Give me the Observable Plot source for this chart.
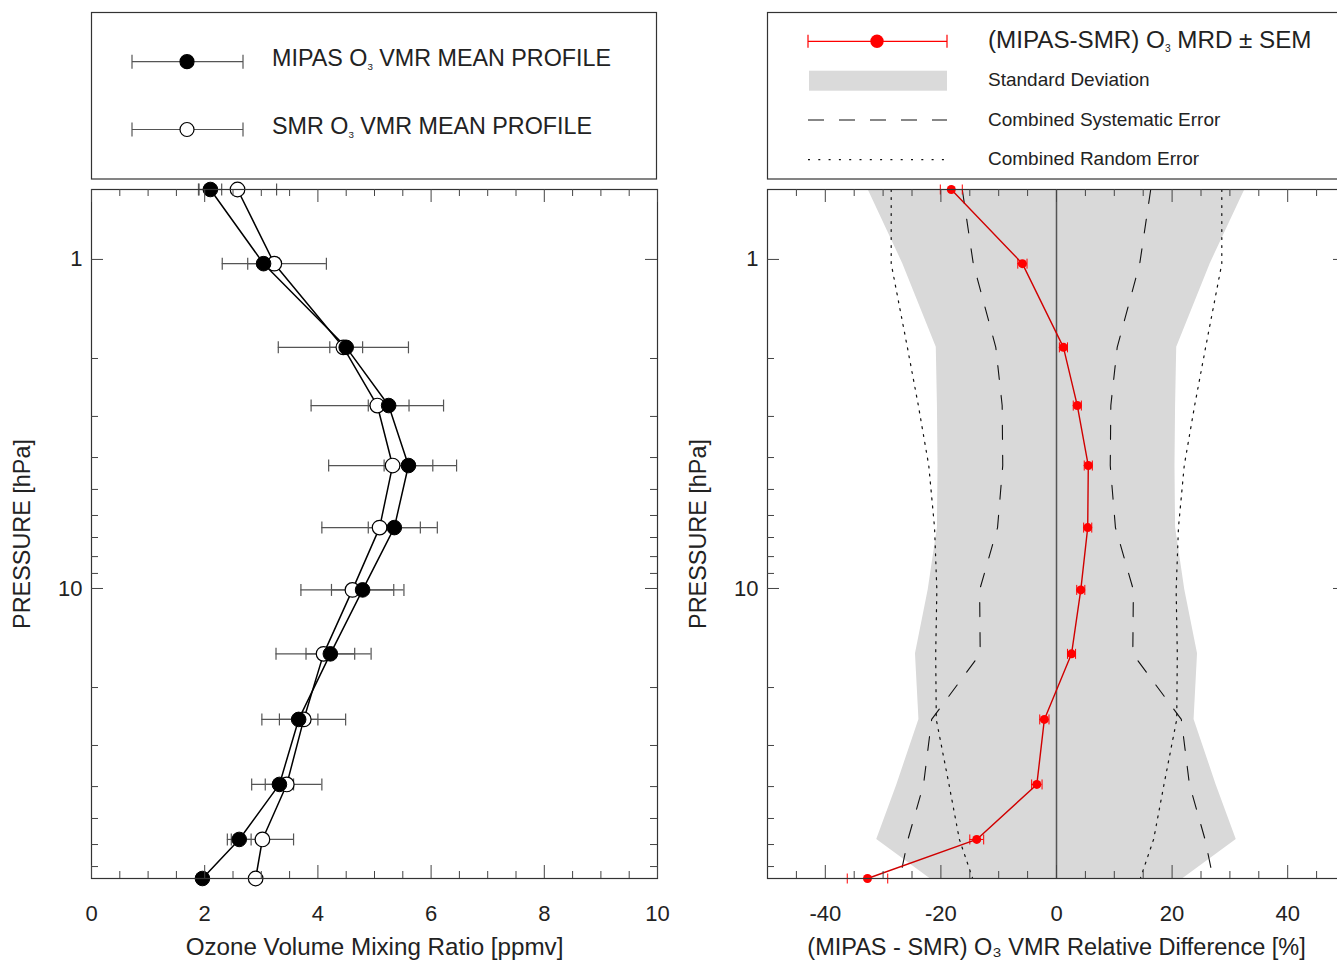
<!DOCTYPE html>
<html>
<head>
<meta charset="utf-8">
<script src="https://cdn.jsdelivr.net/npm/d3@7"></script>
<script src="https://cdn.jsdelivr.net/npm/@observablehq/plot@0.6"></script>
<style>
  html, body { margin: 0; padding: 0; background: #fff; overflow: hidden; }
  #root { position: relative; width: 1337px; height: 960px; overflow: hidden; background: #fff;
          font-family: "Liberation Sans", Arial, Helvetica, sans-serif; color: #222; }
  .panel { position: absolute; top: 180px; height: 780px; }
  .panel svg { overflow: visible; background: transparent; max-width: none !important; }
  .legend { position: absolute; top: 12px; overflow: visible; }
</style>
</head>
<body>
<div id="root"></div>
<script>
// ---------------- DATA ----------------
const pressure = [0.613, 1.03, 1.85, 2.78, 4.23, 6.53, 10.1, 15.8, 25.0, 39.4, 57.9, 76.1]; // hPa
const mipasVmr = [2.10, 3.04, 4.50, 5.25, 5.60, 5.35, 4.79, 4.22, 3.66, 3.32, 2.61, 1.96];  // ppmv
const mipasErr = [0.20, 0.28, 0.29, 0.36, 0.43, 0.46, 0.55, 0.43, 0.34, 0.25, 0.21, null];
const smrVmr   = [2.58, 3.23, 4.45, 5.05, 5.32, 5.09, 4.61, 4.10, 3.75, 3.45, 3.02, 2.90];
const smrErr   = [0.69, 0.92, 1.15, 1.17, 1.13, 1.02, 0.91, 0.84, 0.74, 0.62, 0.55, null];
const mrd      = [-18.2, -5.9, 1.2, 3.6, 5.5, 5.4, 4.2, 2.6, -2.1, -3.4, -13.8, -32.7];    // %
const sem      = [1.9, 0.8, 0.7, 0.7, 0.7, 0.7, 0.7, 0.7, 0.8, 0.9, 1.2, 3.5];
const stdDev   = [32.6, 26.6, 20.8, 20.6, 20.5, 20.6, 22.2, 24.4, 23.8, 27.6, 31.1, 21.9];
const sysErr   = [16.3, 14.4, 10.5, 9.4, 9.3, 10.2, 13.3, 13.2, 21.6, 23.0, 25.7, 27.1];
const randErr  = [28.6, 28.6, 25.8, 23.9, 22.1, 21.1, 20.7, 20.9, 20.8, 18.6, 16.8, 14.5];

const vmrTicks = [0, 2, 4, 6, 8, 10];
const vmrMinorTicks = [0.5, 1, 1.5, 2.5, 3, 3.5, 4.5, 5, 5.5, 6.5, 7, 7.5, 8.5, 9, 9.5];
const diffTicks = [-40, -20, 0, 20, 40];
const diffMinorTicks = [-45, -35, -30, -25, -15, -10, -5, 5, 10, 15, 25, 30, 35, 45];
const pressureTicks = [1, 10];
const pressureMinorTicks = [2, 3, 4, 5, 6, 7, 8, 9, 20, 30, 40, 50, 60, 70];

const vmrDomain = [0, 10];
const diffDomain = [-50, 50];
const pressureDomain = [0.613, 76.1];

const leftLegendLabels = ["MIPAS O", "SMR O"];
const rightLegendLabels = ["(MIPAS-SMR) O", "Standard Deviation", "Combined Systematic Error", "Combined Random Error"];

// ---------------- helpers ----------------
const rows = pressure.map((p, i) => ({
  p, mipas: mipasVmr[i], mipasE: mipasErr[i], smr: smrVmr[i], smrE: smrErr[i],
  mrd: mrd[i], sem: sem[i], sd: stdDev[i], sys: sysErr[i], rnd: randErr[i]
}));

const FONT = '"Liberation Sans", Arial, Helvetica, sans-serif';
const TEXT = "#222";
const capSymbol = {draw(ctx, size) { const h = Math.sqrt(size / Math.PI); ctx.moveTo(0, -h); ctx.lineTo(0, h); }};

function frameTicks({xDomain, yDomain, plotW, plotH, xMaj, xMin, yMaj, yMin}) {
  const [x0, x1] = xDomain, [y0, y1] = yDomain;
  const k = plotH / Math.log10(y1 / y0);
  const yTop = L => y0 * Math.pow(10, L / k);
  const yBot = L => y1 / Math.pow(10, L / k);
  const dx = (x1 - x0) / plotW;
  const st = {stroke: "#444", strokeWidth: 1};
  return [
    Plot.ruleX(xMaj, {x: d => d, y1: () => y0, y2: () => yTop(13), ...st}),
    Plot.ruleX(xMin, {x: d => d, y1: () => y0, y2: () => yTop(7), ...st}),
    Plot.ruleX(xMaj, {x: d => d, y1: () => y1, y2: () => yBot(13), ...st}),
    Plot.ruleX(xMin, {x: d => d, y1: () => y1, y2: () => yBot(7), ...st}),
    Plot.ruleY(yMaj, {y: d => d, x1: () => x0, x2: () => x0 + 12 * dx, ...st}),
    Plot.ruleY(yMin, {y: d => d, x1: () => x0, x2: () => x0 + 7 * dx, ...st}),
    Plot.ruleY(yMaj, {y: d => d, x1: () => x1, x2: () => x1 - 12 * dx, ...st}),
    Plot.ruleY(yMin, {y: d => d, x1: () => x1, x2: () => x1 - 7 * dx, ...st})
  ];
}

function axesAndLabels(xTicks, xLabel, xLabelSize) {
  return [
    Plot.axisX(xTicks, {anchor: "bottom", tickSize: 0, tickPadding: 27, fontSize: 22, label: null,
      tickFormat: d => String(d), fill: TEXT}),
    Plot.axisY(pressureTicks, {anchor: "left", tickSize: 0, tickPadding: 9, fontSize: 22, label: null,
      tickFormat: d => String(d), fill: TEXT}),
    Plot.text([xLabel], {text: d => d, frameAnchor: "bottom", textAnchor: "middle", dy: 76, fontSize: xLabelSize, fill: TEXT}),
    Plot.text(["PRESSURE [hPa]"], {text: d => d, frameAnchor: "left", textAnchor: "middle", rotate: -90, dx: -69, fontSize: 23.4, fill: TEXT})
  ];
}

const root = document.getElementById("root");

// ---------------- LEFT PANEL ----------------
{
  const W = 670, H = 780, mL = 91, mR = 13, mT = 9, mB = 82;
  const errRowsM = rows.filter(d => d.mipasE != null);
  const errRowsS = rows.filter(d => d.smrE != null);
  const eb = {stroke: "#555", strokeWidth: 1.2};
  const chart = Plot.plot({
    width: W, height: H, marginLeft: mL, marginRight: mR, marginTop: mT, marginBottom: mB,
    style: {fontFamily: FONT, color: TEXT, background: "transparent", overflow: "visible", maxWidth: "none"},
    x: {domain: vmrDomain},
    y: {type: "log", domain: pressureDomain, reverse: true},
    marks: [
      Plot.ruleY(errRowsS, {y: "p", x1: d => d.smr - d.smrE, x2: d => d.smr + d.smrE, ...eb}),
      Plot.dot(errRowsS, {y: "p", x: d => d.smr - d.smrE, symbol: capSymbol, r: 6, fill: "none", ...eb}),
      Plot.dot(errRowsS, {y: "p", x: d => d.smr + d.smrE, symbol: capSymbol, r: 6, fill: "none", ...eb}),
      Plot.ruleY(errRowsM, {y: "p", x1: d => d.mipas - d.mipasE, x2: d => d.mipas + d.mipasE, ...eb}),
      Plot.dot(errRowsM, {y: "p", x: d => d.mipas - d.mipasE, symbol: capSymbol, r: 6, fill: "none", ...eb}),
      Plot.dot(errRowsM, {y: "p", x: d => d.mipas + d.mipasE, symbol: capSymbol, r: 6, fill: "none", ...eb}),
      Plot.lineX(rows, {x: "smr", y: "p", stroke: "#000", strokeWidth: 1.5}),
      Plot.lineX(rows, {x: "mipas", y: "p", stroke: "#000", strokeWidth: 1.5}),
      Plot.dot(rows, {x: "smr", y: "p", r: 7.3, fill: "#fff", stroke: "#000", strokeWidth: 1.2}),
      Plot.dot(rows, {x: "mipas", y: "p", r: 7.3, fill: "#000", stroke: "#000", strokeWidth: 1}),
      Plot.frame({stroke: "#333", strokeWidth: 1.2}),
      ...frameTicks({xDomain: vmrDomain, yDomain: pressureDomain, plotW: W - mL - mR, plotH: H - mT - mB,
        xMaj: vmrTicks, xMin: vmrMinorTicks, yMaj: pressureTicks, yMin: pressureMinorTicks}),
      ...axesAndLabels(vmrTicks, "Ozone Volume Mixing Ratio [ppmv]", 24.2)
    ]
  });
  const div = document.createElement("div");
  div.className = "panel"; div.style.left = "0px"; div.style.width = W + "px";
  div.appendChild(chart);
  root.appendChild(div);
}

// ---------------- RIGHT PANEL ----------------
{
  const W = 680, H = 780, mL = 87, mR = 15, mT = 9, mB = 82;
  const red = "#ff0000";
  const chart = Plot.plot({
    width: W, height: H, marginLeft: mL, marginRight: mR, marginTop: mT, marginBottom: mB,
    style: {fontFamily: FONT, color: TEXT, background: "transparent", overflow: "visible", maxWidth: "none"},
    x: {domain: diffDomain},
    y: {type: "log", domain: pressureDomain, reverse: true},
    marks: [
      Plot.areaX(rows, {y: "p", x1: d => -d.sd, x2: d => d.sd, fill: "#d9d9d9"}),
      Plot.ruleX([0], {stroke: "#555", strokeWidth: 1.5}),
      Plot.lineX(rows, {x: d => -d.sys, y: "p", stroke: "#111", strokeWidth: 1.1, strokeDasharray: "14,16"}),
      Plot.lineX(rows, {x: d => d.sys, y: "p", stroke: "#111", strokeWidth: 1.1, strokeDasharray: "14,16"}),
      Plot.lineX(rows, {x: d => -d.rnd, y: "p", stroke: "#111", strokeWidth: 1.2, strokeDasharray: "2,6"}),
      Plot.lineX(rows, {x: d => d.rnd, y: "p", stroke: "#111", strokeWidth: 1.2, strokeDasharray: "2,6"}),
      Plot.ruleY(rows, {y: "p", x1: d => d.mrd - d.sem, x2: d => d.mrd + d.sem, stroke: red, strokeWidth: 1}),
      Plot.dot(rows, {y: "p", x: d => d.mrd - d.sem, symbol: capSymbol, r: 5, fill: "none", stroke: red, strokeWidth: 1}),
      Plot.dot(rows, {y: "p", x: d => d.mrd + d.sem, symbol: capSymbol, r: 5, fill: "none", stroke: red, strokeWidth: 1}),
      Plot.lineX(rows, {x: "mrd", y: "p", stroke: "#d00000", strokeWidth: 1.4}),
      Plot.dot(rows, {x: "mrd", y: "p", r: 4.5, fill: red, stroke: "none"}),
      Plot.frame({stroke: "#333", strokeWidth: 1.2}),
      ...frameTicks({xDomain: diffDomain, yDomain: pressureDomain, plotW: W - mL - mR, plotH: H - mT - mB,
        xMaj: diffTicks, xMin: diffMinorTicks, yMaj: pressureTicks, yMin: pressureMinorTicks}),
      ...axesAndLabels(diffTicks, "(MIPAS - SMR) O\u2083 VMR Relative Difference [%]", 23.5)
    ]
  });
  const div = document.createElement("div");
  div.className = "panel"; div.style.left = "680px"; div.style.width = W + "px";
  div.appendChild(chart);
  root.appendChild(div);
}

// ---------------- LEGENDS ----------------
function makeSvg(left, width, height) {
  const svg = d3.select(root).append("svg")
    .attr("class", "legend").attr("width", width).attr("height", height)
    .style("left", left + "px").style("font-family", FONT);
  return svg;
}
function subText(svg, x, y, size, pre, post, fill) {
  const t = svg.append("text").attr("x", x).attr("y", y).attr("font-size", size).attr("fill", fill || TEXT);
  t.append("tspan").text(pre);
  t.append("tspan").attr("font-size", size * 0.42).attr("dy", 4).text("3");
  t.append("tspan").attr("dy", -4).text(post);
}

// Left legend (box: x 91..657, y 12..179)
{
  const svg = makeSvg(91, 567, 168);
  svg.append("rect").attr("x", 0.5).attr("y", 0.5).attr("width", 565).attr("height", 166.5)
    .attr("fill", "none").attr("stroke", "#333").attr("stroke-width", 1.2);
  const rowsY = [49.7, 117.5];
  const baseY = [53.7, 122];
  const fills = ["#000", "#fff"];
  rowsY.forEach((y, i) => {
    svg.append("line").attr("x1", 41).attr("x2", 152).attr("y1", y).attr("y2", y).attr("stroke", "#555").attr("stroke-width", 1.2);
    [41, 152].forEach(x => svg.append("line").attr("x1", x).attr("x2", x).attr("y1", y - 7).attr("y2", y + 7).attr("stroke", "#555").attr("stroke-width", 1.2));
    svg.append("circle").attr("cx", 96).attr("cy", y).attr("r", 7).attr("fill", fills[i]).attr("stroke", "#000").attr("stroke-width", 1.2);
    subText(svg, 181, baseY[i], 23.3, leftLegendLabels[i], " VMR MEAN PROFILE");
  });
}

// Right legend (box: x 767..(beyond 1337), y 12..179)
{
  const svg = makeSvg(767, 600, 168);
  svg.append("rect").attr("x", 0.5).attr("y", 0.5).attr("width", 598).attr("height", 166.5)
    .attr("fill", "none").attr("stroke", "#333").attr("stroke-width", 1.2);
  const x0 = 41, x1 = 180, tx = 221;
  // MRD ± SEM
  const y1 = 29.3;
  svg.append("line").attr("x1", x0).attr("x2", x1).attr("y1", y1).attr("y2", y1).attr("stroke", "#ff0000").attr("stroke-width", 1.2);
  [x0, x1].forEach(x => svg.append("line").attr("x1", x).attr("x2", x).attr("y1", y1 - 6.5).attr("y2", y1 + 6.5).attr("stroke", "#ff0000").attr("stroke-width", 1.2));
  svg.append("circle").attr("cx", 110).attr("cy", y1).attr("r", 6.7).attr("fill", "#ff0000");
  subText(svg, tx, 36.3, 24.2, rightLegendLabels[0], " MRD \u00B1 SEM");
  // Standard deviation
  svg.append("rect").attr("x", 42).attr("y", 58.7).attr("width", 138).attr("height", 20).attr("fill", "#dadada");
  svg.append("text").attr("x", tx).attr("y", 74).attr("font-size", 19).attr("fill", TEXT).text(rightLegendLabels[1]);
  // Systematic
  svg.append("line").attr("x1", x0).attr("x2", x1).attr("y1", 108).attr("y2", 108).attr("stroke", "#111").attr("stroke-width", 1.2).attr("stroke-dasharray", "16,15");
  svg.append("text").attr("x", tx).attr("y", 113.7).attr("font-size", 19).attr("fill", TEXT).text(rightLegendLabels[2]);
  // Random
  svg.append("line").attr("x1", x0).attr("x2", x1 - 2).attr("y1", 147.7).attr("y2", 147.7).attr("stroke", "#111").attr("stroke-width", 1.2).attr("stroke-dasharray", "2,8.3");
  svg.append("text").attr("x", tx).attr("y", 153).attr("font-size", 19).attr("fill", TEXT).text(rightLegendLabels[3]);
}
</script>
</body>
</html>
